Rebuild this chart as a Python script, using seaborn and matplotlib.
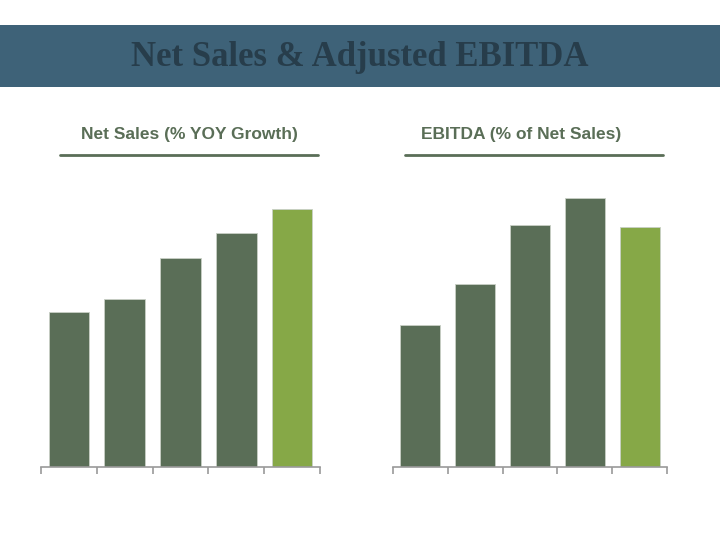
import pandas as pd
import seaborn as sns
import matplotlib.pyplot as plt
from matplotlib.patches import Rectangle
from matplotlib.lines import Line2D

# Values (relative bar heights, no axis labels shown)
YEARS = ["Y1", "Y2", "Y3", "Y4", "Y5"]
NET_SALES = [15.5, 16.8, 20.9, 23.4, 25.8]
EBITDA = [14.2, 18.3, 24.2, 26.9, 24.0]
BAR_COLORS = ["#5a6e57", "#5a6e57", "#5a6e57", "#5a6e57", "#86a847"]

TITLE = "Net Sales & Adjusted EBITDA"
LEFT_TITLE = "Net Sales (% YOY Growth)"
RIGHT_TITLE = "EBITDA (% of Net Sales)"

W, H = 720, 540
BASE_Y = 467
TOP_Y = 180
YMAX = (BASE_Y - TOP_Y) / 10.0


def draw_panel(fig, x0, x1, values, title, title_cx, line_x0, line_x1):
    ax = fig.add_axes([x0 / W, (H - BASE_Y) / H, (x1 - x0) / W, (BASE_Y - TOP_Y) / H])
    df = pd.DataFrame({"year": YEARS, "value": values})
    sns.barplot(data=df, x="year", y="value", hue="year", palette=BAR_COLORS,
                saturation=1, legend=False, width=0.73, ax=ax,
                edgecolor="#c9d0c6", linewidth=0.6)
    ax.set_xlim(-0.5, len(YEARS) - 0.5)
    ax.set_ylim(0, YMAX)
    for s in ["top", "right", "left"]:
        ax.spines[s].set_visible(False)
    ax.spines["bottom"].set_color("#9a9a9a")
    ax.spines["bottom"].set_linewidth(1.2)
    ax.set_yticks([])
    ax.set_xticks([i - 0.5 for i in range(len(YEARS) + 1)])
    ax.set_xticklabels([])
    ax.tick_params(axis="x", bottom=True, length=5, width=1.2, color="#9a9a9a",
                   direction="out")
    ax.set_xlabel("")
    ax.set_ylabel("")
    ax.set_facecolor("none")

    fig.text(title_cx / W, 1 - 135 / H, title, ha="center", va="center",
             fontsize=12.5, fontweight="heavy", color="#5a6e57",
             family=["Liberation Sans Narrow", "Liberation Sans", "DejaVu Sans"])
    fig.add_artist(Line2D([line_x0 / W, line_x1 / W], [1 - 155 / H, 1 - 155 / H],
                          color="#5a6e57", linewidth=2, transform=fig.transFigure))


def main():
    sns.set_theme(style="white")
    fig = plt.figure(figsize=(7.2, 5.4), dpi=100)
    fig.patch.set_facecolor("white")

    # Header banner
    fig.add_artist(Rectangle((0, 1 - 87 / H), 1, 62 / H, transform=fig.transFigure,
                             facecolor="#3e6278", edgecolor="none"))
    fig.text(0.5, 1 - 57 / H, TITLE, ha="center", va="center", fontsize=25,
             fontweight="bold", color="#273d4b", family=["Liberation Serif", "DejaVu Serif"])

    draw_panel(fig, 41, 320, NET_SALES, LEFT_TITLE, 189, 60, 318)
    draw_panel(fig, 393, 667, EBITDA, RIGHT_TITLE, 521, 405, 663)

    fig.savefig("out.png", dpi=100, facecolor="white")


if __name__ == "__main__":
    main()
